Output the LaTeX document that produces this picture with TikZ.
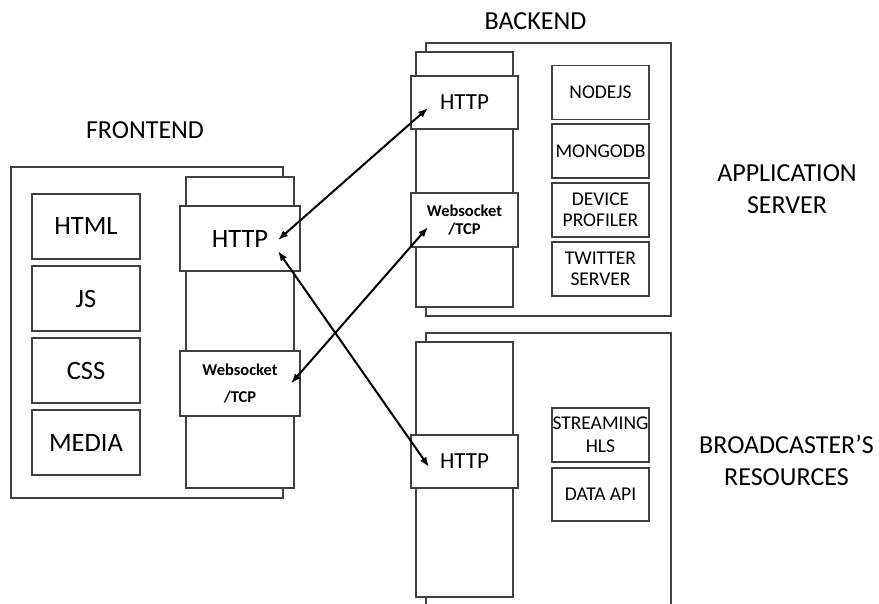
\documentclass[tikz,border=0pt]{standalone}
\usepackage{fontspec}
\setmainfont{Carlito}
\usetikzlibrary{arrows.meta}
\tikzset{
  tier/.style={draw=black!75, line width=1.2pt, inner sep=0pt},
  stack/.style={draw=black!75, fill=white, line width=1.2pt, inner sep=0pt},
  proto/.style={draw=black!75, fill=white, line width=1.2pt, inner sep=0pt, align=center},
  part/.style={draw=black!75, fill=white, line width=1.2pt, inner sep=0pt, align=center,
    minimum width=97pt, minimum height=54pt, font=\fontsize{19.5}{21}\selectfont},
  bigpart/.style={part, minimum width=108pt, minimum height=65pt, font=\fontsize{26.5}{30}\selectfont},
  wsfont/.style={font=\fontsize{16.5}{18}\selectfont\bfseries},
  link/.style={{Latex[length=10pt,width=7.5pt]}-{Latex[length=10pt,width=7.5pt]}, line width=2pt},
  heading/.style={align=center, font=\fontsize{26}{32}\selectfont}
}
\begin{document}
\begin{tikzpicture}[x=1pt, y=-1pt]
  \clip (0,0) rectangle (879,604);
  % frontend
  \node[tier, minimum width=272pt, minimum height=331pt] (front) at (147,332.5) {};
  \node[stack, minimum width=108pt, minimum height=311pt] (fstack) at (240,332.5) {};
  \node[proto, minimum width=120pt, minimum height=65pt, font=\fontsize{26.5}{30}\selectfont] (fhttp) at (240,238.5) {HTTP};
  \node[proto, minimum width=120pt, minimum height=65pt, wsfont] (fws) at (240,383.5) {Websocket\\[9pt]/TCP};
  \node[bigpart] (html) at (86,226.5) {HTML};
  \node[bigpart] (js) at (86,298.5) {JS};
  \node[bigpart] (css) at (86,370.5) {CSS};
  \node[bigpart] (media) at (86,442.5) {MEDIA};
  % application server
  \node[tier, minimum width=245pt, minimum height=273pt] (app) at (548.5,179.5) {};
  \node[stack, minimum width=97pt, minimum height=255pt] (astack) at (464.5,179.5) {};
  \node[proto, minimum width=107pt, minimum height=53pt, font=\fontsize{23}{25}\selectfont] (bhttp) at (464.5,102.5) {HTTP};
  \node[proto, minimum width=107pt, minimum height=54pt, wsfont] (bws) at (464.5,220) {Websocket\\/TCP};
  \node[part] (nodejs) at (600.5,92.5) {NODEJS};
  \node[part] (mongo) at (600.5,151) {MONGODB};
  \node[part] (profiler) at (600.5,210) {DEVICE\\PROFILER};
  \node[part] (twitter) at (600.5,269) {TWITTER\\SERVER};
  % broadcaster
  \node[tier, minimum width=245pt, minimum height=287pt] (cast) at (548.5,476.5) {};
  \node[stack, minimum width=97pt, minimum height=255pt] (cstack) at (464.5,469.5) {};
  \node[proto, minimum width=107pt, minimum height=53pt, font=\fontsize{23}{25}\selectfont] (chttp) at (464.5,461.5) {HTTP};
  \node[part, font=\fontsize{19.5}{23}\selectfont] (hls) at (600.5,435) {STREAMING\\HLS};
  \node[part, minimum height=53pt] (dataapi) at (600.5,494.5) {DATA API};
  % links
  \draw[link] ([shift={(38,1.5)}]fhttp.center) -- ([shift={(-36.5,5.5)}]bhttp.center);
  \draw[link] ([shift={(51,0)}]fws.center) -- ([shift={(-36.5,7)}]bws.center);
  \draw[link] ([shift={(38,12.5)}]fhttp.center) -- ([shift={(-35.5,5.5)}]chttp.center);
  % headings
  \node[heading] (fronttitle) at (145,130) {FRONTEND};
  \node[heading] (backtitle) at (535.5,21) {BACKEND};
  \node[heading] (apptitle) at (787,189.5) {APPLICATION\\SERVER};
  \node[heading] (casttitle) at (786.5,460) {BROADCASTER’S\\RESOURCES};
\end{tikzpicture}
\end{document}
